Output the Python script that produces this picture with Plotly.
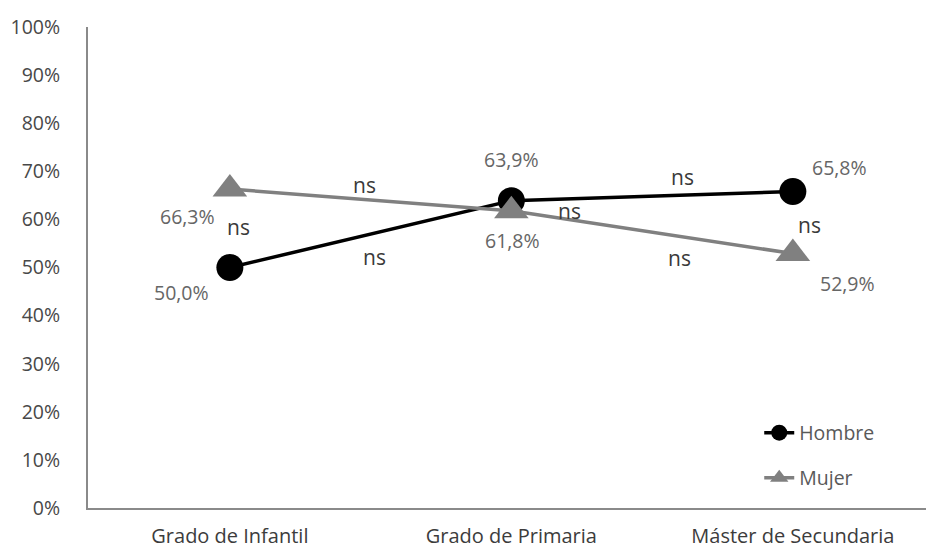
import plotly.graph_objects as go

# Categories and series values (proportions)
categories = ["Grado de Infantil", "Grado de Primaria", "Máster de Secundaria"]
hombre = [0.500, 0.639, 0.658]
mujer = [0.663, 0.618, 0.529]
y_ticks = [i / 10 for i in range(11)]

# "ns" significance markers: (x position in category units, y value)
ns_x = [0.48, 0.032, 0.515, 1.609, 1.208, 1.599, 2.06]
ns_y = [0.672, 0.584, 0.522, 0.688, 0.617, 0.520, 0.588]

FONT = "Open Sans"
x_idx = list(range(len(categories)))

fig = go.Figure()
fig.add_trace(go.Scatter(
    x=x_idx, y=hombre, name="Hombre", mode="lines+markers",
    line=dict(color="#000000", width=3.5),
    marker=dict(symbol="circle", size=27, color="#000000"),
    legend="legend", showlegend=True,
))
fig.add_trace(go.Scatter(
    x=x_idx, y=mujer, name="Mujer", mode="lines+markers",
    line=dict(color="#808080", width=3.5),
    marker=dict(symbol="triangle-up", size=30, color="#808080"),
    legend="legend2", showlegend=True,
))


def pct(v):
    return f"{v * 100:.1f}%".replace(".", ",")


# value labels with their pixel offsets from each point
h_off = [(-48, 25), (0, -41), (47, -24)]
m_off = [(-42, 27), (1, 30), (55, 30)]
annotations = []
for xs, vals, offs in ((x_idx, hombre, h_off), (x_idx, mujer, m_off)):
    for x, v, (dx, dy) in zip(xs, vals, offs):
        annotations.append(dict(
            x=x, y=v, text=pct(v), showarrow=False,
            xshift=dx, yshift=-dy,
            font=dict(family=FONT, size=19.5, color="#666666"),
        ))
for x, y in zip(ns_x, ns_y):
    annotations.append(dict(
        x=x, y=y, text="ns", showarrow=False,
        font=dict(family=FONT, size=21, color="#3a3a3a"),
    ))

legend_style = dict(
    xanchor="left", yanchor="middle",
    font=dict(family=FONT, size=19.5, color="#595959"),
    bgcolor="rgba(0,0,0,0)", itemwidth=30,
)

fig.update_layout(
    width=926, height=548,
    margin=dict(l=88, r=0, t=27, b=40, autoexpand=False),
    plot_bgcolor="white", paper_bgcolor="white",
    font=dict(family=FONT, size=19, color="#595959"),
    annotations=annotations,
    showlegend=True,
    legend=dict(x=0.801, y=0.156, **legend_style),
    legend2=dict(x=0.801, y=0.062, **legend_style),
    xaxis=dict(
        range=[-0.504, 2.473], tickvals=x_idx, ticktext=categories,
        showgrid=False, zeroline=False, showline=True,
        linecolor="#8a8a8a", linewidth=2, ticks="",
        ticklabelstandoff=9, automargin=False,
        tickfont=dict(family=FONT, size=20, color="#3c3c3c"),
    ),
    yaxis=dict(
        range=[0, 1], tickvals=y_ticks, tickformat=".0%",
        showgrid=False, zeroline=False, showline=True,
        linecolor="#8a8a8a", linewidth=2, ticks="",
        ticklabelstandoff=22, automargin=False,
        tickfont=dict(family=FONT, size=19.5, color="#484848"),
    ),
)

fig.write_html("out.html")
